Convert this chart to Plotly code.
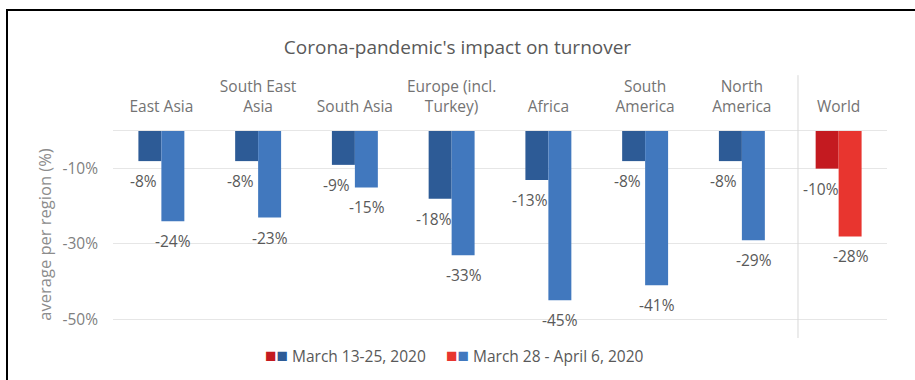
import plotly.graph_objects as go

# ---- data ----
categories = ["East Asia", "South East<br>Asia", "South Asia", "Europe (incl.<br>Turkey)",
              "Africa", "South<br>America", "North<br>America", "World"]
period1_name = "March 13-25, 2020"
period2_name = "March 28 - April 6, 2020"
period1_values = [-8, -8, -9, -18, -13, -8, -8, -10]
period2_values = [-24, -23, -15, -33, -45, -41, -29, -28]
y_tick_values = [-10, -30, -50]
y_tick_labels = ["-10%", "-30%", "-50%"]

# ---- styles ----
DARK_BLUE, LIGHT_BLUE = "#2D5B96", "#4178BE"
DARK_RED, LIGHT_RED = "#C41A20", "#E8352F"
FONT = "Open Sans"
GRAY = "#595959"

is_world = [c == "World" for c in categories]
colors1 = [DARK_RED if w else DARK_BLUE for w in is_world]
colors2 = [LIGHT_RED if w else LIGHT_BLUE for w in is_world]

fig = go.Figure()
fig.add_trace(go.Bar(x=categories, y=period1_values, name=period1_name,
                     marker=dict(color=colors1, line=dict(width=0)), showlegend=False))
fig.add_trace(go.Bar(x=categories, y=period2_values, name=period2_name,
                     marker=dict(color=colors2, line=dict(width=0)), showlegend=False))

annotations = []
for vals, xs in ((period1_values, -18), (period2_values, 12)):
    for c, v in zip(categories, vals):
        annotations.append(dict(x=c, y=v, xref="x", yref="y", text=f"{v}%",
                                showarrow=False, xshift=xs, yshift=-20,
                                font=dict(family=FONT, size=15.5, color=GRAY)))

# legend built from text
leg_font = dict(family=FONT, size=15.5, color=GRAY)
sq = '<span style="color:{c};font-size:19px">■</span>'
annotations.append(dict(
    x=0.1938, y=-0.082, xref="paper", yref="paper", xanchor="left", yanchor="middle",
    showarrow=False, font=leg_font,
    text=sq.format(c=DARK_RED) + sq.format(c=DARK_BLUE) + f" {period1_name}"))
annotations.append(dict(
    x=0.4277, y=-0.082, xref="paper", yref="paper", xanchor="left", yanchor="middle",
    showarrow=False, font=leg_font,
    text=sq.format(c=LIGHT_RED) + sq.format(c=LIGHT_BLUE) + f" {period2_name}"))

fig.update_layout(
    width=915, height=380,
    margin=dict(l=113, r=28, t=131, b=42, autoexpand=False),
    paper_bgcolor="white", plot_bgcolor="white",
    barmode="group", bargap=0.525, bargroupgap=0,
    title=dict(text="Corona-pandemic's impact on turnover", x=0.5, xref="container",
               y=1 - 47 / 380, yref="container", xanchor="center", yanchor="middle",
               font=dict(family=FONT, size=19, color=GRAY)),
    font=dict(family=FONT, color=GRAY),
    annotations=annotations,
    shapes=[
        dict(type="rect", xref="paper", yref="paper", x0=(7 - 113) / 774, x1=1.2,
             y0=-0.4, y1=1 + (131 - 10) / 207,
             line=dict(color="black", width=2), fillcolor="rgba(0,0,0,0)", layer="below"),
        dict(type="line", xref="x", yref="paper", x0=6.58, x1=6.58, y0=0, y1=1.27,
             line=dict(color="#D9D9D9", width=1)),
    ],
)
fig.update_xaxes(side="top", type="category", showgrid=False, showline=True,
                 linecolor="#E6E6E6", linewidth=1, ticks="", ticklabelstandoff=12,
                 tickfont=dict(family=FONT, size=15.5, color="#737373"))
fig.update_yaxes(range=[-55, 0], tickvals=y_tick_values, ticktext=y_tick_labels,
                 showgrid=True, gridcolor="#E6E6E6", zeroline=False, showline=False,
                 ticks="", ticklabelstandoff=14,
                 tickfont=dict(family=FONT, size=15.5, color="#7F7F7F"),
                 title=dict(text="average per region (%)", standoff=6,
                            font=dict(family=FONT, size=16.5, color="#8C8C8C")))

fig.write_html("out.html", config={"displayModeBar": False},
               post_script="document.body.style.margin='0';")
